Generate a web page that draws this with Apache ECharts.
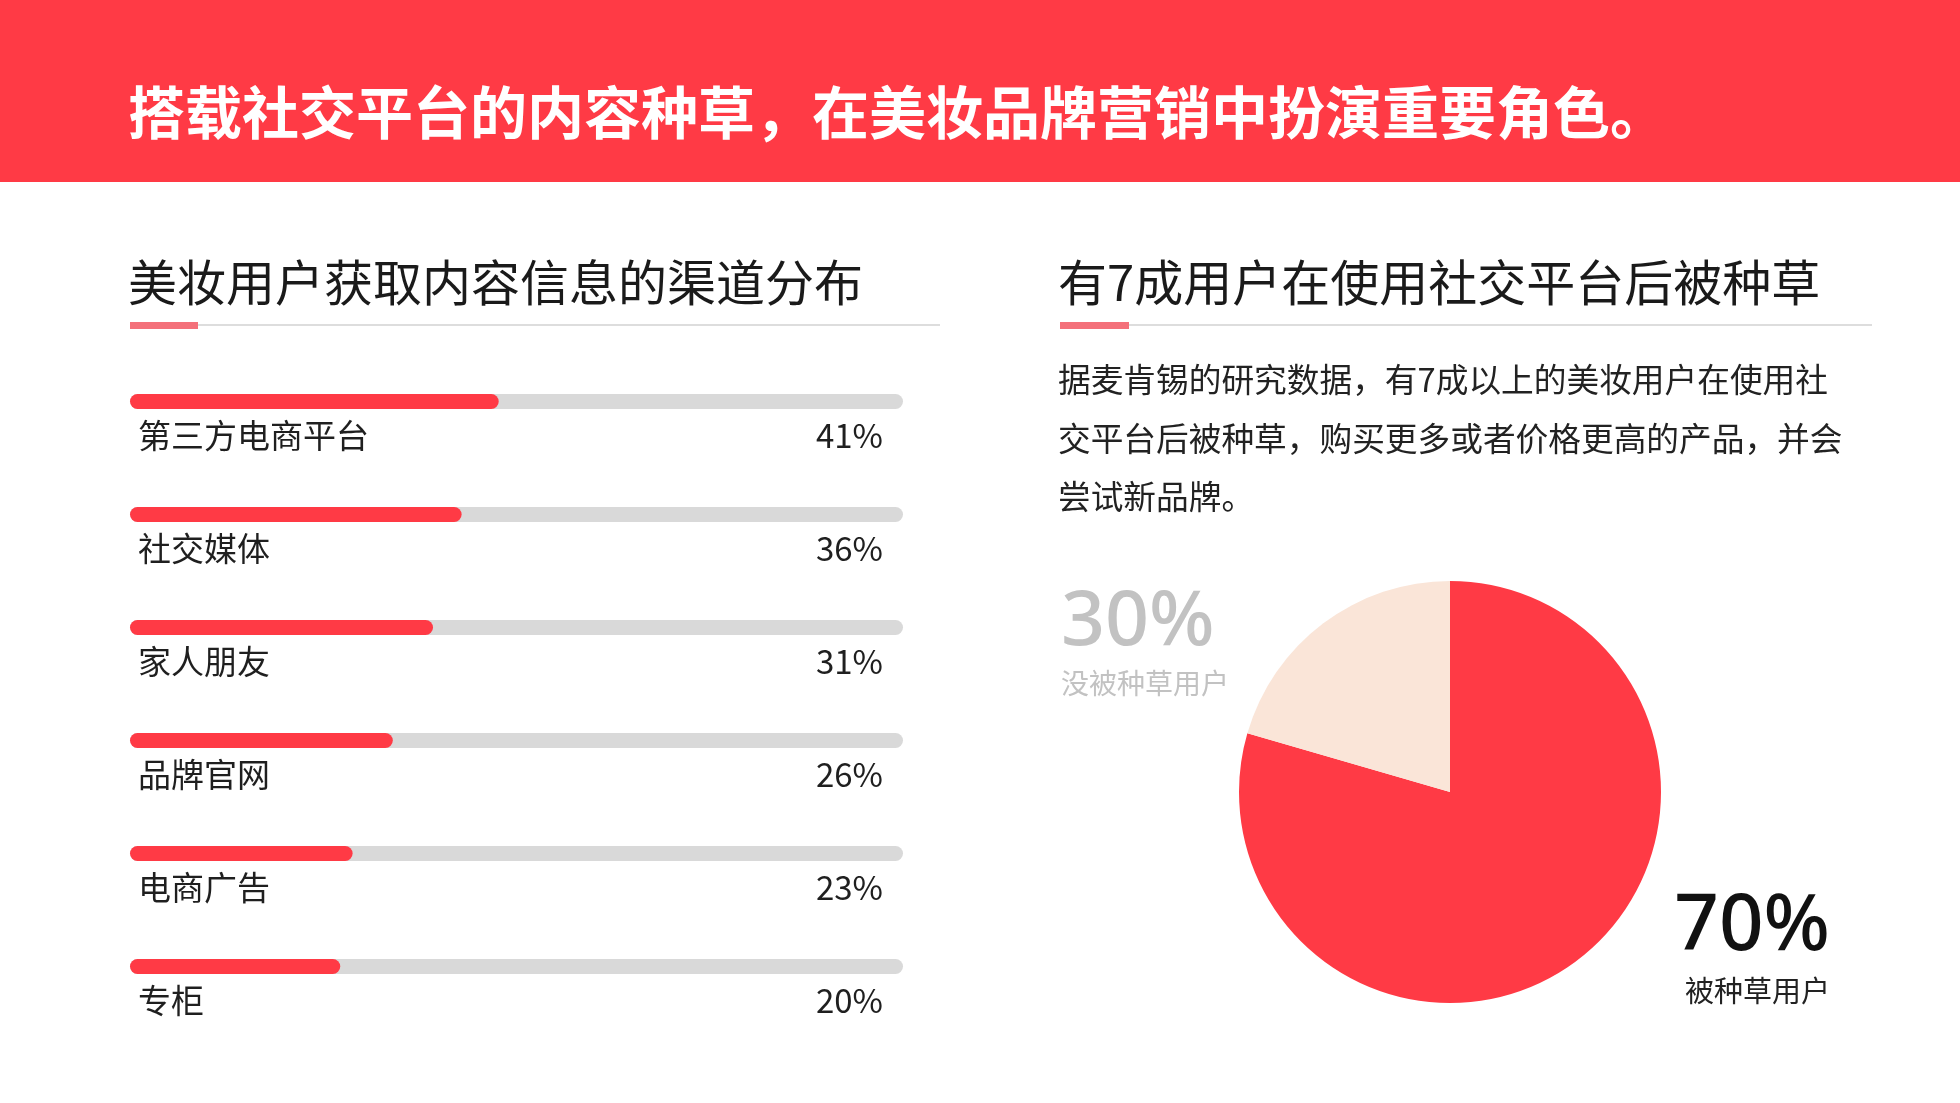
<!DOCTYPE html>
<html>
<head>
<meta charset="utf-8">
<title>美妆内容种草</title>
<script src="https://cdn.jsdelivr.net/npm/echarts@6/dist/echarts.min.js"></script>
<style>
    html, body { margin: 0; padding: 0; background: #fff; }
    #main { width: 1960px; height: 1103px; }
</style>
</head>
<body>
<div id="main"></div>
<script>
var headline = '搭载社交平台的内容种草，在美妆品牌营销中扮演重要角色。';
var leftTitle = '美妆用户获取内容信息的渠道分布';
var rightTitle = '有7成用户在使用社交平台后被种草';

var channels = ['第三方电商平台', '社交媒体', '家人朋友', '品牌官网', '电商广告', '专柜'];
var channelPct = ['41%', '36%', '31%', '26%', '23%', '20%'];
// bar lengths as drawn in the picture (share of grey track), they don't follow the printed %
var barLength = [47.7, 42.9, 39.2, 34.0, 28.8, 27.2];

var noteLines = [
    '据麦肯锡的研究数据，有7成以上的美妆用户在使用社',
    '交平台后被种草，购买更多或者价格更高的产品，并会',
    '尝试新品牌。'
];

var pieNames = ['被种草用户', '没被种草用户'];
var pieLabels = ['70%', '30%'];
// slice sizes as drawn
var pieShare = [79.5, 20.5];

var RED = '#ff3a45';
var FONT = '"Noto Sans CJK SC", "Noto Sans", sans-serif';
var NUM_FONT = '"Noto Sans", "Noto Sans CJK SC", sans-serif';

function txt(x, y, text, size, color, opt) {
    opt = opt || {};
    return {
        type: 'text',
        silent: true,
        style: {
            x: x,
            y: y,
            text: text,
            fontSize: size,
            fontFamily: opt.family || FONT,
            fontWeight: opt.weight || 'normal',
            fill: color,
            align: opt.align || 'left',
            verticalAlign: 'middle'
        }
    };
}

// label sits under the bar: empty first line pushes it down
function underBar(value) {
    return '\n' + value;
}

var myChart = echarts.init(document.getElementById('main'));

var graphics = [
    {type: 'rect', silent: true, shape: {x: 0, y: 0, width: 1960, height: 182}, style: {fill: RED}},
    txt(128, 112, headline, 57, '#fff', {weight: 'bold'}),
    txt(128, 282, leftTitle, 49, '#1a1a1a'),
    txt(1058, 282, rightTitle, 49, '#1a1a1a'),
    // underlines
    {type: 'line', silent: true, shape: {x1: 130, y1: 325, x2: 940, y2: 325}, style: {stroke: '#dddddd', lineWidth: 2}},
    {type: 'rect', silent: true, shape: {x: 130, y: 322, width: 68, height: 7}, style: {fill: '#f4707a'}},
    {type: 'line', silent: true, shape: {x1: 1060, y1: 325, x2: 1872, y2: 325}, style: {stroke: '#dddddd', lineWidth: 2}},
    {type: 'rect', silent: true, shape: {x: 1060, y: 322, width: 69, height: 7}, style: {fill: '#f4707a'}},
    // pie captions
    txt(1061, 623, pieLabels[1], 77, '#c2c2c2', {family: NUM_FONT, weight: 500}),
    txt(1061, 683, pieNames[1], 28, '#c2c2c2'),
    txt(1830, 928, pieLabels[0], 78, '#111', {family: NUM_FONT, weight: 500, align: 'right'}),
    txt(1830, 991, pieNames[0], 29, '#222', {align: 'right'})
];
for (var i = 0; i < noteLines.length; i++) {
    graphics.push(txt(1058, 380 + i * 58.5, noteLines[i], 32.7, '#222'));
}

var labelStyle = {
    inside: true,
    interval: 0,
    showMinLabel: true,
    showMaxLabel: true,
    hideOverlap: false,
    fontSize: 33,
    color: '#1f1f1f',
    lineHeight: 68,
    formatter: underBar
};

var option = {
    animation: false,
    backgroundColor: '#fff',
    textStyle: {fontFamily: FONT},
    graphic: graphics,
    grid: {
        left: 130,
        right: 1057,
        top: 345,
        height: 678
    },
    xAxis: {
        type: 'value',
        min: 0,
        max: 100,
        show: false
    },
    yAxis: [
        {
            type: 'category',
            data: channels,
            inverse: true,
            axisLine: {show: false},
            axisTick: {show: false},
            axisLabel: Object.assign({margin: 8}, labelStyle)
        },
        {
            type: 'category',
            data: channelPct,
            inverse: true,
            position: 'right',
            axisLine: {show: false},
            axisTick: {show: false},
            axisLabel: Object.assign({margin: 20}, labelStyle)
        }
    ],
    series: [
        {
            type: 'bar',
            yAxisIndex: 0,
            data: barLength,
            barWidth: 15,
            silent: true,
            itemStyle: {
                color: RED,
                borderRadius: 8
            },
            showBackground: true,
            backgroundStyle: {
                color: '#d9d9d9',
                borderRadius: 8
            }
        },
        {
            type: 'pie',
            center: [1450, 792],
            radius: 211,
            startAngle: 90,
            silent: true,
            label: {show: false},
            labelLine: {show: false},
            data: [
                {name: pieNames[0], value: pieShare[0], itemStyle: {color: RED}},
                {name: pieNames[1], value: pieShare[1], itemStyle: {color: '#fae5d8'}}
            ]
        }
    ]
};

myChart.setOption(option);
</script>
</body>
</html>
